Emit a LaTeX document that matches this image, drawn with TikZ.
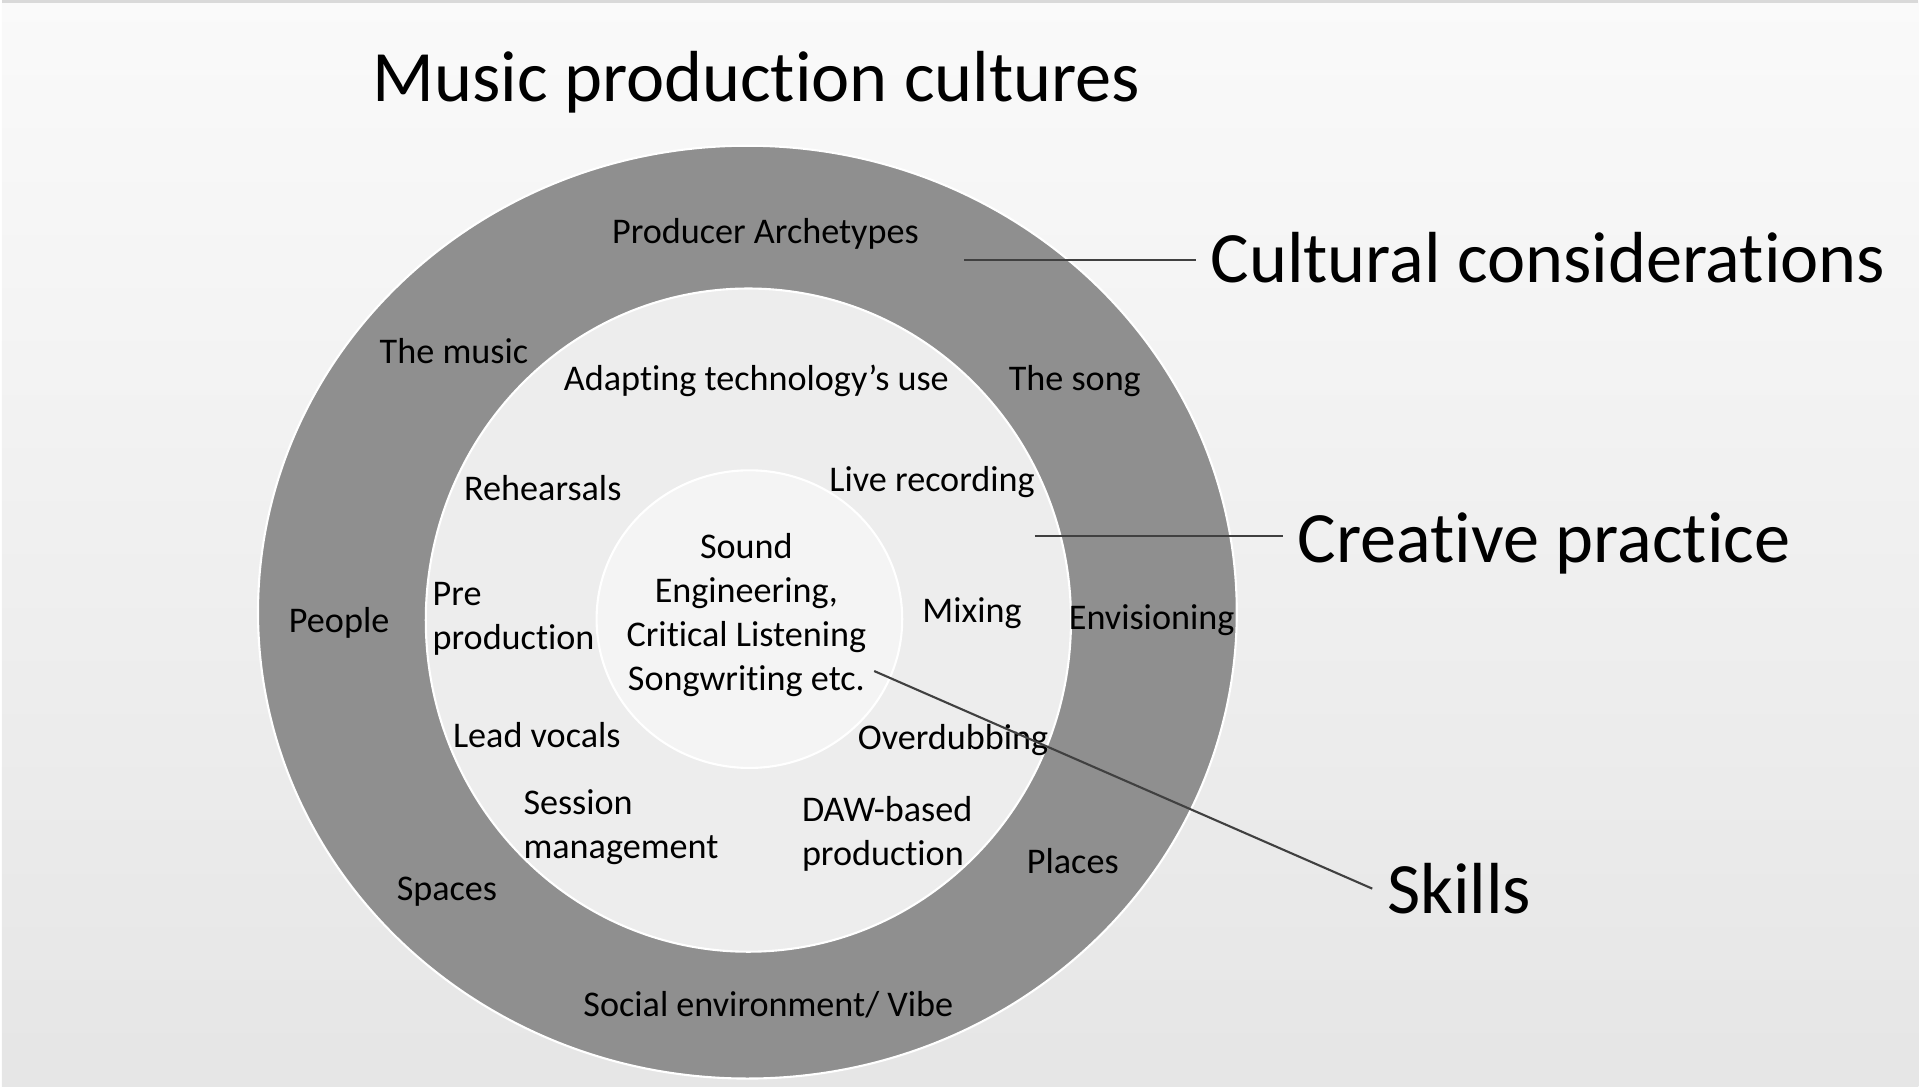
\documentclass[tikz,border=0pt]{standalone}
\usepackage{fontspec}
\setmainfont{Carlito}[Ligatures=NoCommon]
\begin{document}
\begin{tikzpicture}[x=0.01cm,y=-0.01cm,
    big/.style={font=\fontsize{20.6}{24}\selectfont,inner xsep=4pt,inner ysep=0pt},
    item/.style={font=\fontsize{10.3}{12.5}\selectfont,inner sep=0pt,align=left},
    lead/.style={draw=black!75,line width=0.6pt}]

\def\RINGCOLOR{black!44}
\def\PRACTICECOLOR{black!7}
\def\SKILLCOLOR{black!4.5}
	% background
	\shade[top color=black!2,bottom color=black!10] (0,0) rectangle (1920,1088);
	\draw[black!15,line width=1pt] (0,1.5) -- (1920,1.5);
	\useasboundingbox (0,0) rectangle (1920,1088);

	% the three rings
	\fill[\RINGCOLOR,draw=white,line width=0.6pt] (747,613) ellipse [x radius=4.90cm,y radius=4.67cm];
	\fill[\PRACTICECOLOR,draw=white,line width=0.6pt] (748,621) ellipse [x radius=3.23cm,y radius=3.32cm];
	\fill[\SKILLCOLOR,draw=white,line width=0.6pt] (749,620) ellipse [x radius=1.53cm,y radius=1.49cm];

	% headings
	\node[big] (title) at (756,82) {Music production cultures};
	\node[big] (cultural) at (1549,258) {Cultural considerations};
	\node[big] (creative) at (1545,544) {Creative practice};
	\node[big] (skills) at (1460,890) {Skills};

	% outer ring
	\node[item] (producer) at (765,234) {Producer Archetypes};
	\node[item] (music) at (453,351) {The music};
	\node[item] (song) at (1075,382) {The song};
	\node[item] (people) at (338,624) {People};
	\node[item] (envision) at (1152,621) {Envisioning};
	\node[item] (spaces) at (446,893) {Spaces};
	\node[item] (places) at (1073,862) {Places};
	\node[item] (vibe) at (768,1006) {Social environment/ Vibe};

	% middle ring
	\node[item] (adapting) at (756,381) {Adapting technology’s use};
	\node[item] (rehearsals) at (542,489) {Rehearsals};
	\node[item] (live) at (932,483) {Live recording};
	\node[item,anchor=west] (pre) at (431,620) {Pre\\production};
	\node[item] (mixing) at (972,614) {Mixing};
	\node[item] (lead) at (536,736) {Lead vocals};
	\node[item] (overdub) at (953,741) {Overdubbing};
	\node[item,anchor=west] (session) at (522,828) {Session\\management};
	\node[item,anchor=west] (daw) at (801,835) {DAW-based\\production};

	% centre
	\node[item,align=center] (core) at (746,616) {Sound\\Engineering,\\Critical Listening\\Songwriting etc.};

	% leaders
	\coordinate (cultural-in) at (964,260);
	\coordinate (creative-in) at (1035,537);
	\coordinate (skills-in) at (874,672);
	\draw[lead] (cultural-in) -- (cultural-in -| cultural.west);
	\draw[lead] (creative-in) -- (creative-in -| creative.west);
	\draw[lead] (skills-in) -- (skills.west);

\end{tikzpicture}
\end{document}
